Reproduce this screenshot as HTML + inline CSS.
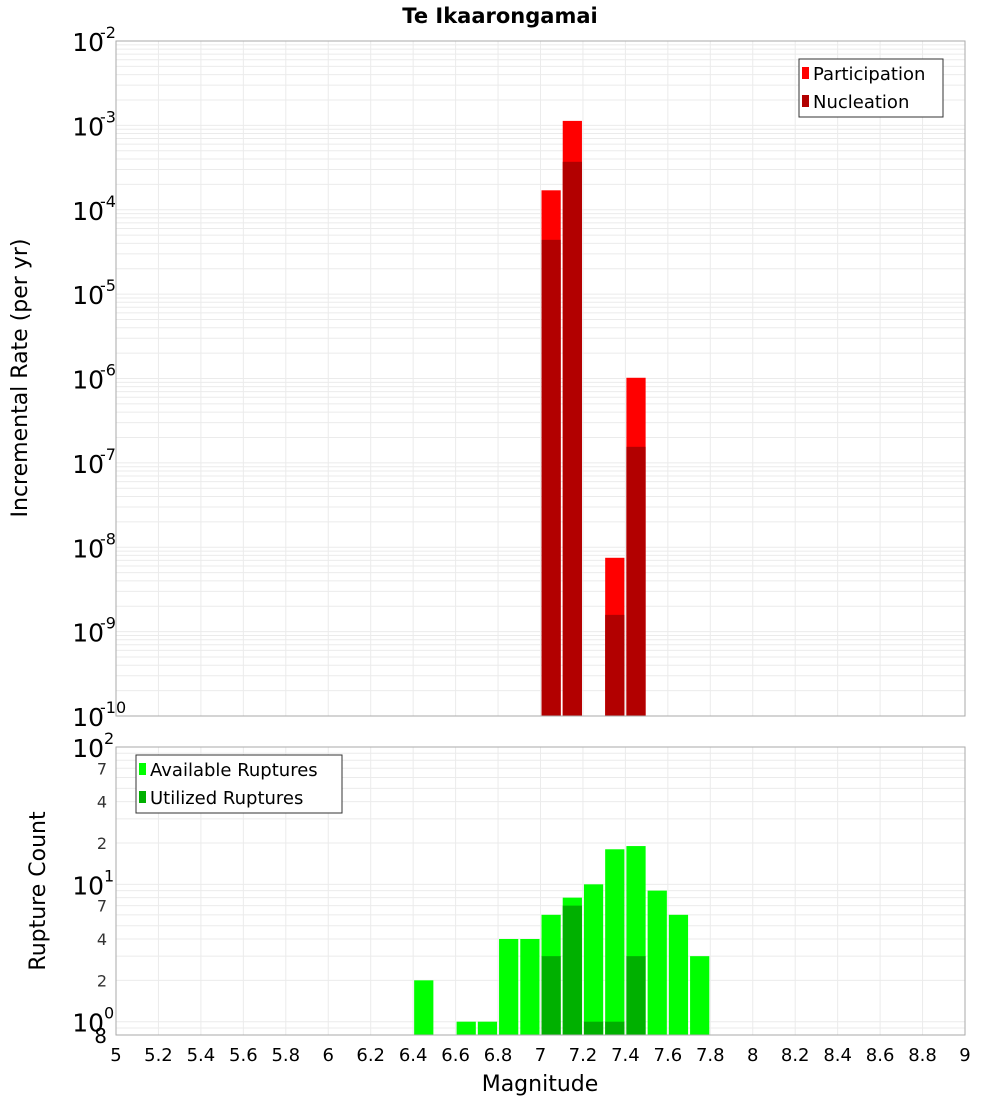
<!DOCTYPE html>
<html><head><meta charset="utf-8"><style>
body{margin:0;background:#fff;}
svg{display:block;font-family:"DejaVu Sans","Liberation Sans",sans-serif;}
</style></head><body>
<svg id="chart" width="1000" height="1100">
<text x="500" y="23" text-anchor="middle" font-size="21" font-weight="bold">Te Ikaarongamai</text>
<g id="topg"></g>
<g id="botg"></g>
<text transform="translate(27,378) rotate(-90)" text-anchor="middle" font-size="22">Incremental Rate (per yr)</text>
<text transform="translate(45,891) rotate(-90)" text-anchor="middle" font-size="22">Rupture Count</text>
<text x="540" y="1091" text-anchor="middle" font-size="22">Magnitude</text>
<g>
<rect x="799" y="59" width="144" height="58" fill="#fff" stroke="#333" stroke-width="1"/>
<rect x="802" y="67" width="7" height="12" fill="#ff0000"/><text x="813" y="80" font-size="18">Participation</text>
<rect x="802" y="95" width="7" height="12" fill="#b20000"/><text x="813" y="108" font-size="18">Nucleation</text>
</g>
<g>
<rect x="136" y="755" width="206" height="58" fill="#fff" stroke="#333" stroke-width="1"/>
<rect x="139" y="763" width="7" height="12" fill="#00ff00"/><text x="150" y="776" font-size="18">Available Ruptures</text>
<rect x="139" y="791" width="7" height="12" fill="#00b000"/><text x="150" y="804" font-size="18">Utilized Ruptures</text>
</g>
</svg>
<script>
const mags=[7.05,7.15,7.35,7.45];
const participation=[1.7e-4,1.13e-3,7.5e-9,1.02e-6];
const nucleation=[4.4e-5,3.7e-4,1.58e-9,1.55e-7];
const cmags=[6.45,6.65,6.75,6.85,6.95,7.05,7.15,7.25,7.35,7.45,7.55,7.65,7.75];
const available=[2,1,1,4,4,6,8,10,18,19,9,6,3];
const utilized=[0,0,0,0,0,3,7,1,1,3,0,0,0];
const xTicks=[5,5.2,5.4,5.6,5.8,6,6.2,6.4,6.6,6.8,7,7.2,7.4,7.6,7.8,8,8.2,8.4,8.6,8.8,9];
const topExps=[-2,-3,-4,-5,-6,-7,-8,-9,-10];
const botMinor=[2,4,7,20,40,70];
const NS='http://www.w3.org/2000/svg';
const X0=116,X1=965;
const xs=m=>X0+(m-5)/4*(X1-X0);
const T0=41,T1=716;
const yT=v=>T0+(-2-Math.log10(v))/8*(T1-T0);
const B0=747,B1=1035;
const yB=v=>B0+(2-Math.log10(v))/Math.log10(100/0.8)*(B1-B0);
function mk(p,tag,a){const e=document.createElementNS(NS,tag);for(const k in a)e.setAttribute(k,a[k]);p.appendChild(e);return e;}
const gTop=document.getElementById('topg'),gBot=document.getElementById('botg');
for(let d=-10;d<-2;d++)for(let k=1;k<10;k++){const v=k*Math.pow(10,d);const yy=yT(v);
 const l=mk(gTop,'line',{x1:X0,x2:X1,y1:yy,y2:yy,stroke:'#ebebeb','stroke-width':1});
 
 }
for(let d=-1;d<3;d++)for(let k=1;k<10;k++){const v=k*Math.pow(10,d);if(v<0.8||v>100)continue;const yy=yB(v);
 const l=mk(gBot,'line',{x1:X0,x2:X1,y1:yy,y2:yy,stroke:'#ebebeb','stroke-width':1});
 
 }
xTicks.forEach(t=>{const xx=xs(t);
 const a=mk(gTop,'line',{x1:xx,x2:xx,y1:T0,y2:T1,stroke:'#ebebeb'});
 
 
 const b=mk(gBot,'line',{x1:xx,x2:xx,y1:B0,y2:B1,stroke:'#ebebeb'});
 
 
 const tx=mk(gBot,'text',{x:xx,y:1061,'text-anchor':'middle','font-size':18});tx.textContent=String(t);
 
 });
const bw=(X1-X0)/40;
mags.forEach((m,i)=>{
 const r=mk(gTop,'rect',{x:xs(m)-bw/2+1,y:yT(participation[i]),width:bw-2,height:T1-yT(participation[i]),fill:'#ff0000'});
 
 
 const n=mk(gTop,'rect',{x:xs(m)-bw/2+1,y:yT(nucleation[i]),width:bw-2,height:T1-yT(nucleation[i]),fill:'#b20000'});
 
 });
cmags.forEach((m,i)=>{
 const r=mk(gBot,'rect',{x:xs(m)-bw/2+1,y:yB(available[i]),width:bw-2,height:B1-yB(available[i]),fill:'#00ff00'});
 
 
 if(utilized[i]>0){const n=mk(gBot,'rect',{x:xs(m)-bw/2+1,y:yB(utilized[i]),width:bw-2,height:B1-yB(utilized[i]),fill:'#00b000'});
 
 }});
mk(gTop,'rect',{x:X0,y:T0,width:X1-X0,height:T1-T0,fill:'none',stroke:'#aaa'});
mk(gBot,'rect',{x:X0,y:B0,width:X1-X0,height:B1-B0,fill:'none',stroke:'#aaa'});
function pow10(g,yy,e,name){const t=mk(g,'text',{x:104,y:yy+10,'text-anchor':'end','font-size':25});
 t.textContent='10';
 
 
 const s=mk(g,'text',{x:e<0?100:104,y:yy-3,'font-size':16});s.textContent=String(e);
 
 }
topExps.forEach(e=>pow10(gTop,yT(Math.pow(10,e)),e,'rate-tick-label'));
[2,1,0].forEach(e=>pow10(gBot,yB(Math.pow(10,e)),e,'count-tick-label'));
botMinor.forEach(v=>{const t=mk(gBot,'text',{x:107,y:yB(v)+6,'text-anchor':'end','font-size':16,fill:'#333'});
 t.textContent=String(v<10?v:v/10);
 
 });
const e8=mk(gBot,'text',{x:107,y:yB(0.8)+8,'text-anchor':'end','font-size':20});e8.textContent='8';


</script>
</body></html>
